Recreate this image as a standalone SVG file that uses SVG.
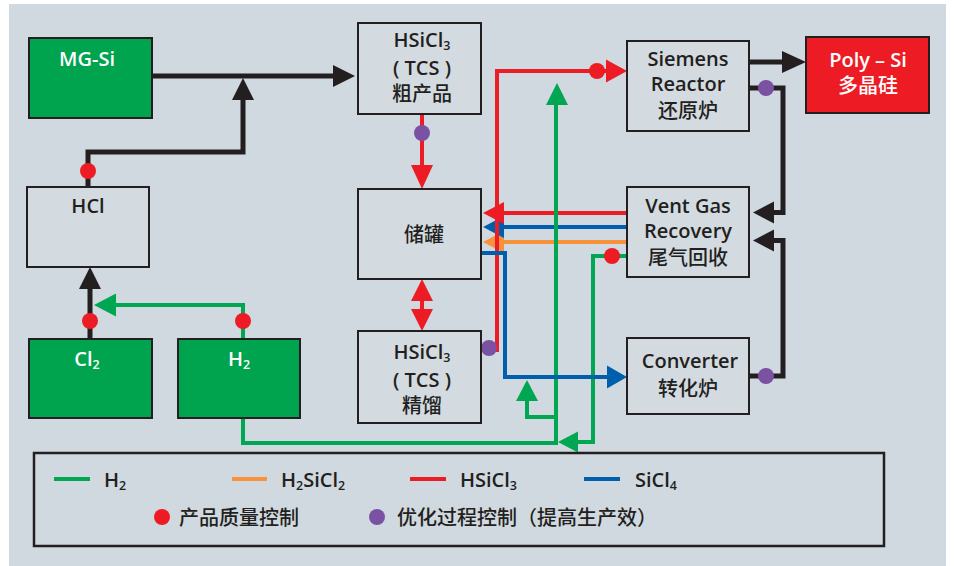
<svg xmlns="http://www.w3.org/2000/svg" width="954" height="566" viewBox="0 0 954 566">
<style>
text{font-family:"Open Sans","Noto Sans CJK SC",sans-serif;font-weight:600;font-size:20px;fill:#231f20}
.zh{font-weight:500}
.c{text-anchor:middle}
.w{fill:#ffffff}
.sub{font-size:12.5px}
.box{fill:#d3dbe0;stroke:#231f20;stroke-width:2}
.gbox{fill:#00a44f;stroke:#231f20;stroke-width:2}
.rbox{fill:#ed1c24;stroke:#231f20;stroke-width:2}
.k{fill:none;stroke:#231f20;stroke-width:5}
.g{fill:none;stroke:#00a651;stroke-width:4}
.r{fill:none;stroke:#ed1c24;stroke-width:4}
.b{fill:none;stroke:#005fad;stroke-width:4}
.o{fill:none;stroke:#f7923a;stroke-width:4}
.ka{fill:#231f20}
.ga{fill:#00a651}
.ra{fill:#ed1c24}
.ba{fill:#005fad}
.oa{fill:#f7923a}
.rd{fill:#ed1c24}
.pd{fill:#7b52a3}
</style>
<rect x="9" y="4" width="937" height="562" fill="#d0d9df"/>

<g id="connectors">
  <!-- black -->
  <path class="k" d="M152 76 H335"/>
  <polygon class="ka" points="333,65 355,76 333,87"/>
  <path class="k" d="M88 187 V152 H243 V98"/>
  <polygon class="ka" points="232,100 243,78 254,100"/>
  <path class="k" d="M90 339 V287"/>
  <polygon class="ka" points="79,289 90,267 101,289"/>
  <path class="k" d="M749 62 H784"/>
  <polygon class="ka" points="782,51 806,62 782,73"/>
  <path class="k" d="M749 88 H783 V212.5 H772"/>
  <polygon class="ka" points="774,201.5 753,212.5 774,223.5"/>
  <path class="k" d="M749 376 H783 V240.5 H772"/>
  <polygon class="ka" points="774,229.5 753,240.5 774,251.5"/>
  <!-- red -->
  <path class="r" d="M422 114 V167"/>
  <polygon class="ra" points="411,165 422,189 433,165"/>
  <path class="r" d="M422 299 V311"/>
  <polygon class="ra" points="411,301 422,279 433,301"/>
  <polygon class="ra" points="411,309 422,331 433,309"/>
  <path class="r" d="M489 350 H497 V71 H608"/>
  <polygon class="ra" points="606,59.5 627,71 606,82.5"/>
  <!-- vent gas to tank -->
  <path class="o" d="M627 242 H502"/>
  <polygon class="oa" points="504,231 483,242 504,253"/>
  <path class="b" d="M627 227 H502"/>
  <polygon class="ba" points="504,216 483,227 504,238"/>
  <path class="r" d="M627 213 H502"/>
  <polygon class="ra" points="504,202 483,213 504,224"/>
  <path class="r" d="M497 215 V350"/>
  <!-- green -->
  <path class="g" d="M243 339 V305 H114"/>
  <polygon class="ga" points="116,293.5 94,305 116,316.5"/>
  <path class="g" d="M243 418 V443 H556 V103"/>
  <polygon class="ga" points="546,105 557,83 568,105"/>
  <path class="g" d="M556 417 H527 V399"/>
  <polygon class="ga" points="516,401 527,380 538,401"/>
  <path class="g" d="M627 256 H593 V442 H576"/>
  <polygon class="ga" points="578,431.5 558,442 578,452.5"/>
  <!-- blue -->
  <path class="b" d="M481 253 H505 V377 H609"/>
  <polygon class="ba" points="607,365.5 627,377 607,388.5"/>
  <!-- dots -->
  <circle class="rd" cx="88" cy="171" r="8"/>
  <circle class="rd" cx="90" cy="321" r="8"/>
  <circle class="rd" cx="243" cy="321" r="8"/>
  <circle class="pd" cx="422" cy="133" r="8"/>
  <circle class="pd" cx="489" cy="348" r="8"/>
  <circle class="rd" cx="597" cy="71" r="8"/>
  <circle class="rd" cx="612" cy="256" r="8"/>
  <circle class="pd" cx="766" cy="88" r="8"/>
  <circle class="pd" cx="766" cy="376" r="8"/>
</g>

<g id="mgsi">
  <rect class="gbox" x="29" y="38" width="123" height="80"/>
  <text class="c w" x="87" y="66">MG-Si</text>
</g>
<g id="hcl">
  <rect class="box" x="27" y="187" width="122" height="80"/>
  <text class="c" x="88" y="213">HCl</text>
</g>
<g id="cl2">
  <rect class="gbox" x="29" y="339" width="123" height="79"/>
  <text class="c w" x="87" y="366">Cl<tspan class="sub w" dy="3">2</tspan></text>
</g>
<g id="h2">
  <rect class="gbox" x="178" y="339" width="122" height="79"/>
  <text class="c w" x="239" y="366">H<tspan class="sub w" dy="3">2</tspan></text>
</g>
<g id="tcs-crude">
  <rect class="box" x="358" y="23" width="123" height="91"/>
  <text class="c" x="422" y="47">HSiCl<tspan class="sub" dy="3">3</tspan></text>
  <text class="c" x="422" y="75">( TCS )</text>
  <text class="c zh" x="422" y="101">粗产品</text>
</g>
<g id="tank">
  <rect class="box" x="358" y="189" width="123" height="90"/>
  <text class="c zh" x="424" y="242">储罐</text>
</g>
<g id="tcs-distill">
  <rect class="box" x="358" y="331" width="123" height="92"/>
  <text class="c" x="422" y="359">HSiCl<tspan class="sub" dy="3">3</tspan></text>
  <text class="c" x="422" y="387">( TCS )</text>
  <text class="c zh" x="422" y="413">精馏</text>
</g>
<g id="siemens">
  <rect class="box" x="627" y="41" width="122" height="90"/>
  <text class="c" x="688" y="66">Siemens</text>
  <text class="c" x="688" y="91">Reactor</text>
  <text class="c zh" x="688" y="118">还原炉</text>
</g>
<g id="polysi">
  <rect class="rbox" x="806" y="37" width="123" height="76"/>
  <text class="c w" x="868" y="67">Poly – Si</text>
  <text class="c w zh" x="868" y="93">多晶硅</text>
</g>
<g id="ventgas">
  <rect class="box" x="627" y="187" width="122" height="90"/>
  <text class="c" x="688" y="213">Vent Gas</text>
  <text class="c" x="688" y="238">Recovery</text>
  <text class="c zh" x="688" y="265">尾气回收</text>
</g>
<g id="converter">
  <rect class="box" x="627" y="338" width="122" height="76"/>
  <text class="c" x="690" y="368">Converter</text>
  <text class="c zh" x="688" y="396">转化炉</text>
</g>

<g id="legend">
  <rect x="34" y="453" width="850" height="93" fill="none" stroke="#231f20" stroke-width="2.5"/>
  <path class="g" d="M54 479 H90"/>
  <text x="104" y="487">H<tspan class="sub" dy="3">2</tspan></text>
  <path class="o" d="M232 479 H267"/>
  <text x="281" y="487">H<tspan class="sub" dy="3">2</tspan><tspan dy="-3">SiCl</tspan><tspan class="sub" dy="3">2</tspan></text>
  <path class="r" d="M410 479 H446"/>
  <text x="460" y="487">HSiCl<tspan class="sub" dy="3">3</tspan></text>
  <path class="b" d="M584 479 H620"/>
  <text x="635" y="487">SiCl<tspan class="sub" dy="3">4</tspan></text>
  <circle class="rd" cx="162" cy="517" r="8"/>
  <text class="zh" x="179" y="525">产品质量控制</text>
  <circle class="pd" cx="377" cy="517" r="8"/>
  <text class="zh" x="397" y="525">优化过程控制（提高生产效）</text>
</g>
</svg>
